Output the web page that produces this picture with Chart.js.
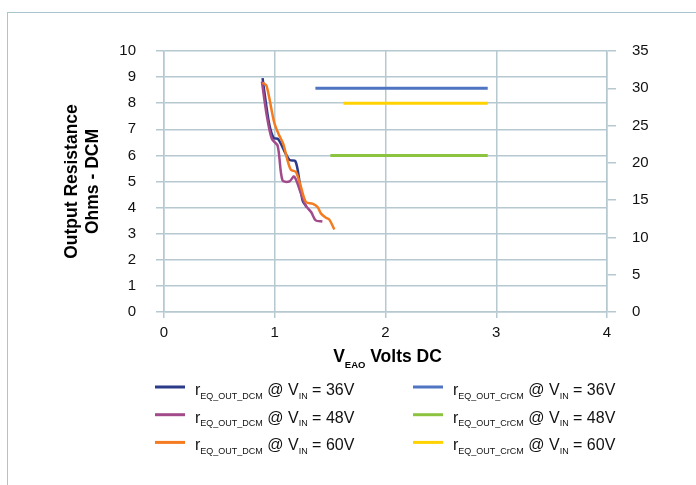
<!DOCTYPE html>
<html><head><meta charset="utf-8">
<script src="https://cdn.jsdelivr.net/npm/chart.js@4/dist/chart.umd.min.js"></script>
<style>
html,body{margin:0;padding:0;background:#fff;}
#wrap{position:relative;width:696px;height:485px;overflow:hidden;background:#fff;}
#frame{position:absolute;left:7px;top:12px;width:720px;height:500px;border:1.5px solid #a9c6ce;box-sizing:border-box;}
canvas{position:absolute;left:0;top:0;}
</style></head><body>
<div id="wrap"><div id="frame"></div><canvas id="c" width="696" height="485"></canvas></div>
<script>
// ---- data ----
const xTicks = [0, 1, 2, 3, 4];
const leftTicks = [0,1,2,3,4,5,6,7,8,9,10];
const rightTicks = [0,5,10,15,20,25,30,35];

const dcm36V = [0.890, 0.905, 0.950, 0.990, 1.032, 1.131, 1.186, 1.222, 1.252, 1.288];
const dcm36R = [8.96, 8.47, 7.20, 6.67, 6.62, 5.83, 5.78, 5.04, 4.27, 4.02];

const dcm48V = [0.884, 0.926, 0.974, 1.026, 1.070, 1.131, 1.176, 1.240, 1.280, 1.330, 1.370, 1.430];
const dcm48R = [8.83, 7.58, 6.63, 6.37, 5.04, 5.00, 5.19, 4.50, 4.08, 3.82, 3.51, 3.47];

const dcm60V = [0.890, 0.926, 0.995, 1.041, 1.077, 1.116, 1.146, 1.192, 1.237, 1.282, 1.340, 1.387, 1.418, 1.463, 1.493, 1.538];
const dcm60R = [8.79, 8.66, 7.26, 6.76, 6.44, 5.80, 5.45, 5.36, 4.78, 4.21, 4.15, 4.02, 3.77, 3.61, 3.54, 3.16];

const crcm36V = [1.367, 2.923];
const crcm36R = [30, 30];
const crcm48V = [1.502, 2.923];
const crcm48R = [21, 21];
const crcm60V = [1.620, 2.923];
const crcm60R = [28, 28];

const vinLabels = ['36V', '48V', '60V'];
const dcmSub = 'EQ_OUT_DCM';
const crcmSub = 'EQ_OUT_CrCM';
const yTitle = ['Output Resistance', 'Ohms - DCM'];

// ---- styling ----
const FONT = "'Liberation Sans', Arial, sans-serif";
const GRID = '#b6c9d1';
const colors = {
  dcm36: '#2c3a8a', dcm48: '#a34a8b', dcm60: '#f47b20',
  crcm36: '#4f74c2', crcm48: '#8cc440', crcm60: '#ffd200'
};

function pts(xs, ys) { return xs.map((x, i) => ({x: x, y: ys[i]})); }
function ds(xs, ys, color, axis, order, w) {
  return {
    data: pts(xs, ys), borderColor: color, backgroundColor: color,
    borderWidth: w, pointRadius: 0, fill: false, yAxisID: axis,
    cubicInterpolationMode: 'default', tension: 0.3, order: order
  };
}

const datasets = [
  ds(dcm36V, dcm36R, colors.dcm36, 'y', 3, 2.5),
  ds(dcm48V, dcm48R, colors.dcm48, 'y', 2, 2.5),
  ds(dcm60V, dcm60R, colors.dcm60, 'y', 1, 2.5),
  ds(crcm36V, crcm36R, colors.crcm36, 'y2', 4, 3),
  ds(crcm48V, crcm48R, colors.crcm48, 'y2', 4, 3),
  ds(crcm60V, crcm60R, colors.crcm60, 'y2', 4, 3)
];

function drawParts(ctx, parts, x, y) {
  let cx = x;
  for (const p of parts) {
    ctx.font = p.font;
    ctx.fillText(p.t, cx, y + (p.dy || 0));
    cx += ctx.measureText(p.t).width;
  }
  return cx;
}
function partsWidth(ctx, parts) {
  let w = 0;
  for (const p of parts) { ctx.font = p.font; w += ctx.measureText(p.t).width; }
  return w;
}

const extras = {
  id: 'extras',
  afterDraw(chart) {
    const ctx = chart.ctx;
    const ca = chart.chartArea;
    ctx.save();
    ctx.fillStyle = '#000';
    ctx.textBaseline = 'alphabetic';
    ctx.textAlign = 'left';
    // x-axis title with subscript
    const xt = [
      {t: 'V', font: 'bold 17.5px ' + FONT},
      {t: 'EAO', font: 'bold 9.5px ' + FONT, dy: 6},
      {t: ' Volts DC', font: 'bold 17.5px ' + FONT}
    ];
    const cx = (ca.left + ca.right) / 2 + 2;
    drawParts(ctx, xt, cx - partsWidth(ctx, xt) / 2, 362);
    // legend (two columns)
    const cols = [
      {x: 155, sub: dcmSub, cols: [colors.dcm36, colors.dcm48, colors.dcm60]},
      {x: 413, sub: crcmSub, cols: [colors.crcm36, colors.crcm48, colors.crcm60]}
    ];
    const rowBase = [395, 422.7, 450.4];
    for (const c of cols) {
      for (let i = 0; i < 3; i++) {
        const by = rowBase[i];
        ctx.strokeStyle = c.cols[i];
        ctx.lineWidth = 3;
        ctx.beginPath();
        ctx.moveTo(c.x, by - 8);
        ctx.lineTo(c.x + 30, by - 8);
        ctx.stroke();
        ctx.fillStyle = '#111';
        drawParts(ctx, [
          {t: 'r', font: '16px ' + FONT},
          {t: c.sub, font: '9px ' + FONT, dy: 3.5},
          {t: ' @ V', font: '16px ' + FONT},
          {t: 'IN', font: '9px ' + FONT, dy: 3.5},
          {t: ' = ' + vinLabels[i], font: '16px ' + FONT}
        ], c.x + 40, by);
      }
    }
    ctx.restore();
  }
};

new Chart(document.getElementById('c'), {
  type: 'line',
  data: { datasets: datasets },
  plugins: [extras],
  options: {
    responsive: false,
    animation: false,
    events: [],
    layout: { padding: { top: 51, left: 0, right: 0, bottom: 133 } },
    plugins: { legend: { display: false }, tooltip: { enabled: false }, title: { display: false } },
    scales: {
      x: {
        type: 'linear', position: 'bottom', min: xTicks[0], max: xTicks[xTicks.length - 1],
        afterBuildTicks: (s) => { s.ticks = xTicks.map(v => ({value: v})); },
        ticks: { font: {family: FONT, size: 15}, color: '#111', padding: 6 },
        grid: { color: GRID, lineWidth: 1.5, tickLength: 6, tickColor: GRID },
        border: { color: GRID, width: 1.5 },
        afterFit: (s) => { s.height = 40; }
      },
      y: {
        type: 'linear', position: 'left', min: 0, max: 10,
        afterBuildTicks: (s) => { s.ticks = leftTicks.map(v => ({value: v})); },
        ticks: { font: {family: FONT, size: 15}, color: '#111', padding: 20 },
        grid: { color: GRID, lineWidth: 1.5, tickLength: 8, tickColor: GRID },
        border: { color: GRID, width: 1.5 },
        title: { display: true, text: yTitle, color: '#000',
                 font: {family: FONT, size: 17.5, weight: 'bold', lineHeight: 1.2},
                 padding: {top: 61.5, bottom: 0} },
        afterFit: (s) => { s.width = 164; }
      },
      y2: {
        type: 'linear', position: 'right', min: 0, max: 35,
        afterBuildTicks: (s) => { s.ticks = rightTicks.map(v => ({value: v})); },
        ticks: { font: {family: FONT, size: 15}, color: '#111', padding: 16 },
        grid: { drawOnChartArea: false, color: GRID, lineWidth: 1.5, tickLength: 9, tickColor: GRID },
        border: { color: GRID, width: 1.5 },
        afterFit: (s) => { s.width = 89; }
      }
    }
  }
});
</script>
</body></html>
